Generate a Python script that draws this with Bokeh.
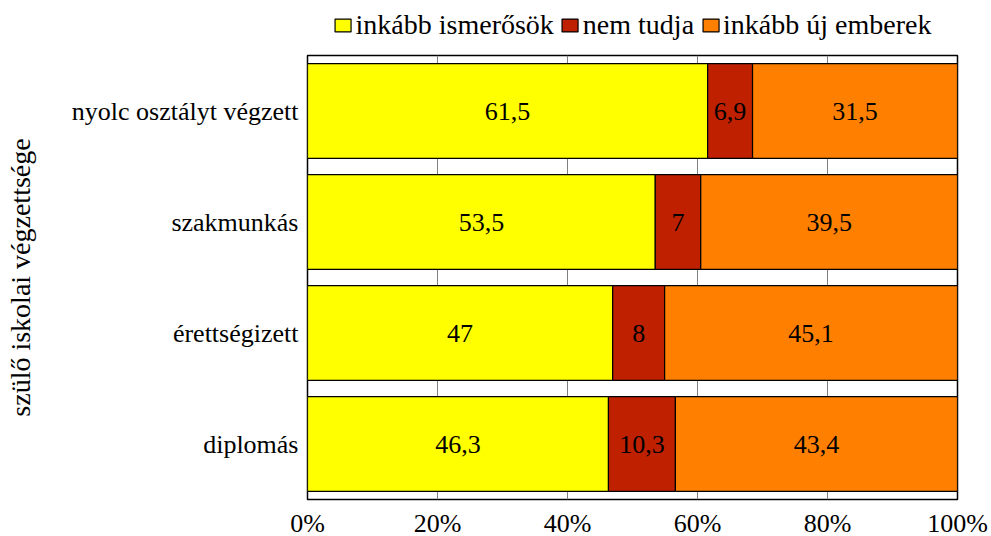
from bokeh.plotting import figure
from bokeh.layouts import column
from bokeh.models import ColumnDataSource, Legend, LegendItem, FixedTicker, CustomJSTickFormatter
from bokeh.core.properties import value
from bokeh.embed import file_html
from bokeh.resources import INLINE

categories = ["nyolc osztályt végzett", "szakmunkás", "érettségizett", "diplomás"]
series_names = ["inkább ismerősök", "nem tudja", "inkább új emberek"]
ismerosok = [61.5, 53.5, 47.0, 46.3]
nem_tudja = [6.9, 7.0, 8.0, 10.3]
uj_emberek = [31.5, 39.5, 45.1, 43.4]
colors = ["#FFFF00", "#BF2000", "#FF8000"]
x_ticks = [0, 20, 40, 60, 80, 100]
y_title = "szülő iskolai végzettsége"

FONT = value("Liberation Serif")
FS = "26px"

def fmt(v):
    if abs(v - round(v)) < 1e-9:
        return str(int(round(v)))
    return ("%.1f" % v).replace(".", ",")

series = [ismerosok, nem_tudja, uj_emberek]
totals = [sum(s[i] for s in series) for i in range(len(categories))]

sources = []
left = [0.0] * len(categories)
lx, ly, lt = [], [], []
for s in series:
    pct = [s[i] / totals[i] * 100 for i in range(len(categories))]
    right = [left[i] + pct[i] for i in range(len(categories))]
    sources.append(ColumnDataSource(dict(y=categories, left=left, right=right)))
    for i in range(len(categories)):
        lx.append((left[i] + right[i]) / 2)
        ly.append(categories[i])
        lt.append(fmt(s[i]))
    left = right

# ---- legend strip (separate figure so the legend is not clipped) ----
top = figure(frame_width=650, frame_height=50, output_backend="svg", toolbar_location=None,
             min_border_left=307, min_border_right=34, min_border_top=0, min_border_bottom=0,
             x_axis_type=None, y_axis_type=None, x_range=(0, 100),
             y_range=list(reversed(categories)))
top.outline_line_color = None
top.grid.grid_line_color = None
leg_renderers = []
for src, c in zip(sources, colors):
    r = top.hbar(y="y", left="left", right="right", height=0.855, source=src,
                 fill_color=c, line_color="black", line_width=1.2, visible=False)
    leg_renderers.append(r)
legend = Legend(items=[LegendItem(label=n, renderers=[r]) for n, r in zip(series_names, leg_renderers)],
                orientation="horizontal", location="center",
                label_text_font="Liberation Serif", label_text_font_size="28px",
                label_text_color="black",
                glyph_width=20, glyph_height=16, label_standoff=3, spacing=6,
                padding=0, margin=0, border_line_color=None, background_fill_alpha=0,
                inactive_fill_alpha=0)
top.add_layout(legend, "center")

# ---- main chart ----
p = figure(y_range=list(reversed(categories)), x_range=(0, 100),
           frame_width=650, frame_height=444, output_backend="svg", toolbar_location=None,
           min_border_left=307, min_border_right=34, min_border_top=5, min_border_bottom=37)

for src, c in zip(sources, colors):
    p.hbar(y="y", left="left", right="right", height=0.855, source=src,
           fill_color=c, line_color="black", line_width=1.2)

tsrc = ColumnDataSource(dict(x=lx, y=ly, t=lt))
p.text(x="x", y="y", text="t", source=tsrc, text_align="center", text_baseline="middle",
       text_font=FONT, text_font_size=FS, text_color="black")

p.xaxis.ticker = FixedTicker(ticks=x_ticks)
p.xaxis.formatter = CustomJSTickFormatter(code="return tick + '%';")
p.xaxis.major_label_text_font = "Liberation Serif"
p.xaxis.major_label_text_font_size = FS
p.xaxis.major_label_text_color = "black"
p.xaxis.major_label_standoff = 9
p.xaxis.major_tick_out = 0
p.xaxis.major_tick_in = 0
p.xaxis.minor_tick_line_color = None
p.xaxis.axis_line_color = None

p.yaxis.axis_label = y_title
p.yaxis.axis_label_text_font = "Liberation Serif"
p.yaxis.axis_label_text_font_size = "28px"
p.yaxis.axis_label_text_font_style = "normal"
p.yaxis.axis_label_text_color = "black"
p.yaxis.axis_label_standoff = 33
p.yaxis.major_label_text_font = "Liberation Serif"
p.yaxis.major_label_text_font_size = FS
p.yaxis.major_label_text_color = "black"
p.yaxis.major_label_standoff = 9
p.yaxis.major_tick_out = 0
p.yaxis.major_tick_in = 0
p.yaxis.axis_line_color = None

p.ygrid.grid_line_color = None
p.xgrid.grid_line_color = "#808080"
p.xgrid.grid_line_width = 1
p.outline_line_color = "black"
p.outline_line_width = 1.5
p.background_fill_color = "white"

layout = column(top, p, spacing=0)
open("out.html", "w").write(file_html(layout, INLINE))
